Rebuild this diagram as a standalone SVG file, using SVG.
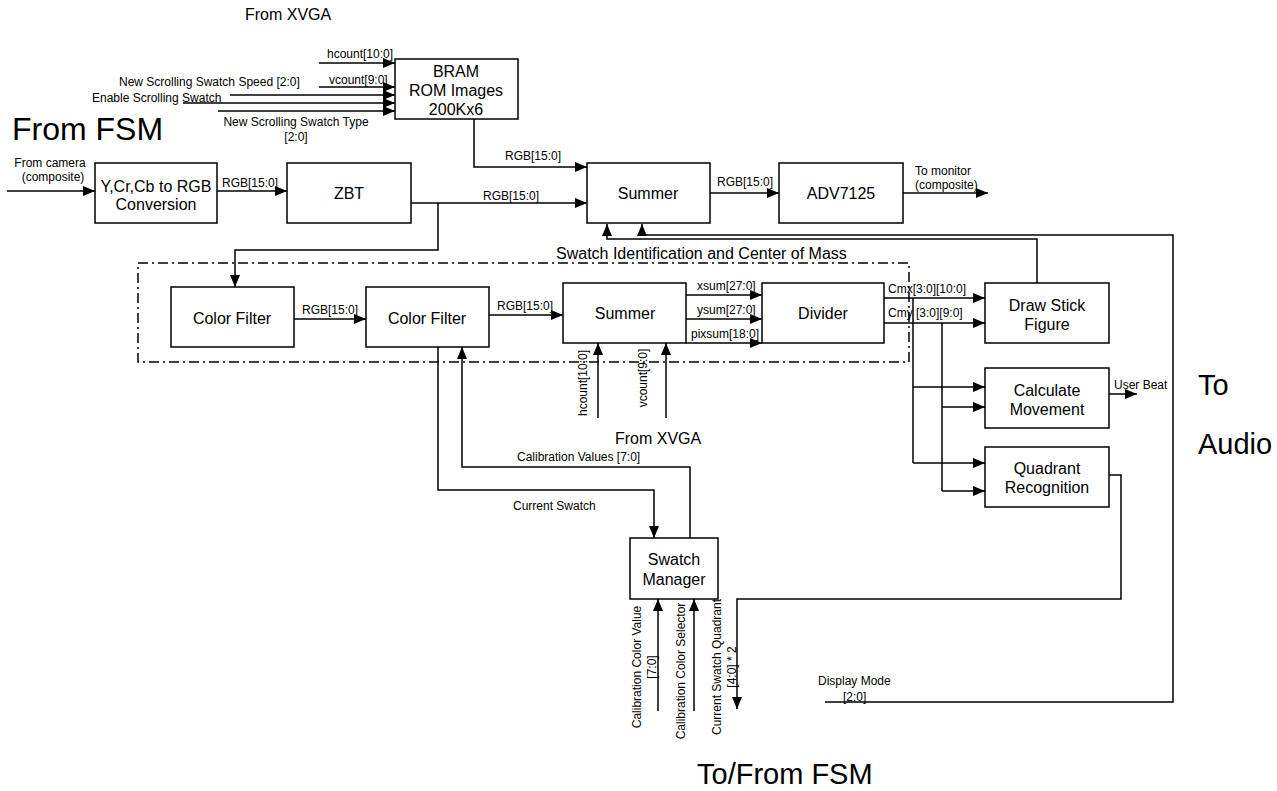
<svg xmlns="http://www.w3.org/2000/svg" width="1277" height="791" viewBox="0 0 1277 791">
<defs>
<marker id="ah" markerUnits="userSpaceOnUse" markerWidth="12" markerHeight="10" refX="12" refY="5" orient="auto"><path d="M0,0 L12,5 L0,10 z" fill="#000"/></marker>
<style>
.box{fill:#fff;stroke:#000;stroke-width:1.5}
.w{fill:none;stroke:#000;stroke-width:1.5}
.a{marker-end:url(#ah)}
.dash{fill:none;stroke:#000;stroke-width:1.5;stroke-dasharray:10,4,2,4}
text{font-family:"Liberation Sans",Arial,sans-serif;fill:#000}
.bt{font-size:16px;text-anchor:middle}
.s{font-size:12px}
.sc{font-size:12px;text-anchor:middle}
.m{font-size:16px}
.big{font-size:32px}
.big2{font-size:29px}
</style>
</defs>
<rect width="1277" height="791" fill="#fff"/>

<g id="group-swatch-id">
<rect class="dash" x="138" y="263" width="771" height="99"/>
<text class="m" x="556" y="259">Swatch Identification and Center of Mass</text>
</g>

<g id="connectors">
<path class="w a" d="M319,63 H395"/>
<path class="w a" d="M319,87 H395"/>
<path class="w a" d="M230,95 H395"/>
<path class="w a" d="M183,103 H395"/>
<path class="w a" d="M218,111 H395"/>
<path class="w a" d="M7,191 H95"/>
<path class="w a" d="M217,191 H287"/>
<path class="w a" d="M474,119 V167 H587"/>
<path class="w a" d="M411,203 H587"/>
<path class="w a" d="M438,203 V250 H235 V287"/>
<path class="w a" d="M710,193 H779"/>
<path class="w a" d="M903,193 H988"/>
<path class="w a" d="M294,319 H366"/>
<path class="w a" d="M489,315 H563"/>
<path class="w a" d="M686,295 H762"/>
<path class="w a" d="M686,319 H762"/>
<path class="w a" d="M686,343 H762"/>
<path class="w a" d="M884,298 H985"/>
<path class="w a" d="M884,323 H985"/>
<path class="w" d="M913,298 V463"/>
<path class="w a" d="M913,387 H985"/>
<path class="w a" d="M913,463 H985"/>
<path class="w" d="M942,323 V491"/>
<path class="w a" d="M942,407 H985"/>
<path class="w a" d="M942,491 H985"/>
<path class="w a" d="M1109,394 H1137"/>
<path class="w a" d="M598,418 V343"/>
<path class="w a" d="M666,418 V343"/>
<path class="w a" d="M438,347 V490 H654 V538"/>
<path class="w a" d="M690,538 V467 H462 V347"/>
<path class="w a" d="M658,711 V599"/>
<path class="w a" d="M694,711 V599"/>
<path class="w a" d="M1109,475 H1121 V599 H737 V709"/>
<path class="w a" d="M825,702 H1173 V235 H642 V224"/>
<path class="w a" d="M1037,283 V239 H607 V224"/>
</g>

<g id="labels">
<text class="m" x="245" y="20">From XVGA</text>
<text class="s" x="327" y="58">hcount[10:0]</text>
<text class="s" x="329" y="84">vcount[9:0]</text>
<text class="s" x="119" y="86">New Scrolling Swatch Speed [2:0]</text>
<text class="s" x="92" y="102">Enable Scrolling Swatch</text>
<text class="sc" x="296" y="126">New Scrolling Swatch Type</text>
<text class="sc" x="296" y="141">[2:0]</text>
<text class="big" x="12" y="140">From FSM</text>
<text class="sc" x="50" y="167">From camera</text>
<text class="sc" x="53" y="181">(composite)</text>
<text class="s" x="222" y="187">RGB[15:0]</text>
<text class="s" x="505" y="160">RGB[15:0]</text>
<text class="s" x="483" y="200">RGB[15:0]</text>
<text class="s" x="717" y="186">RGB[15:0]</text>
<text class="s" x="915" y="175">To monitor</text>
<text class="s" x="915" y="189">(composite)</text>
<text class="s" x="302" y="314">RGB[15:0]</text>
<text class="s" x="497" y="310">RGB[15:0]</text>
<text class="s" x="697" y="290">xsum[27:0]</text>
<text class="s" x="697" y="314">ysum[27:0]</text>
<text class="s" x="691" y="338">pixsum[18:0]</text>
<text class="s" x="888" y="293">Cmx[3:0][10:0]</text>
<text class="s" x="888" y="317">Cmy [3:0][9:0]</text>
<text class="s" x="1114" y="389">User Beat</text>
<text class="sc" transform="translate(587,383) rotate(-90)">hcount[10:0]</text>
<text class="sc" transform="translate(647,378) rotate(-90)">vcount[9:0]</text>
<text class="m" x="615" y="444">From XVGA</text>
<text class="s" x="517" y="461">Calibration Values [7:0]</text>
<text class="s" x="513" y="510">Current Swatch</text>
<text class="sc" transform="translate(641,667) rotate(-90)">Calibration Color Value</text>
<text class="sc" transform="translate(656,667) rotate(-90)">[7:0]</text>
<text class="sc" transform="translate(685,671) rotate(-90)">Calibration Color Selector</text>
<text class="sc" transform="translate(721,667) rotate(-90)">Current Swatch Quadrant</text>
<text class="sc" transform="translate(736,667) rotate(-90)">[4:0] * 2</text>
<text class="s" x="818" y="685">Display Mode</text>
<text class="s" x="843" y="701">[2:0]</text>
<text class="big2" x="1198" y="395">To</text>
<text class="big2" x="1198" y="454">Audio</text>
<text class="big2" x="697" y="784">To/From FSM</text>
</g>

<g id="node-bram"><rect class="box" x="395" y="59" width="123" height="60"/><text class="bt" x="456" y="77">BRAM</text><text class="bt" x="456" y="96">ROM Images</text><text class="bt" x="456" y="115">200Kx6</text></g>
<g id="node-ycrcb"><rect class="box" x="95" y="163" width="122" height="60"/><text class="bt" x="156" y="192">Y,Cr,Cb to RGB</text><text class="bt" x="156" y="210">Conversion</text></g>
<g id="node-zbt"><rect class="box" x="287" y="163" width="124" height="60"/><text class="bt" x="349" y="199">ZBT</text></g>
<g id="node-summer1"><rect class="box" x="587" y="163" width="123" height="60"/><text class="bt" x="648" y="199">Summer</text></g>
<g id="node-adv"><rect class="box" x="779" y="163" width="124" height="60"/><text class="bt" x="841" y="199">ADV7125</text></g>
<g id="node-cf1"><rect class="box" x="171" y="287" width="123" height="60"/><text class="bt" x="232" y="324">Color Filter</text></g>
<g id="node-cf2"><rect class="box" x="366" y="287" width="123" height="60"/><text class="bt" x="427" y="324">Color Filter</text></g>
<g id="node-summer2"><rect class="box" x="563" y="283" width="123" height="60"/><text class="bt" x="625" y="319">Summer</text></g>
<g id="node-divider"><rect class="box" x="762" y="283" width="122" height="60"/><text class="bt" x="823" y="319">Divider</text></g>
<g id="node-stick"><rect class="box" x="985" y="283" width="124" height="60"/><text class="bt" x="1047" y="311">Draw Stick</text><text class="bt" x="1047" y="330">Figure</text></g>
<g id="node-calc"><rect class="box" x="985" y="368" width="124" height="60"/><text class="bt" x="1047" y="396">Calculate</text><text class="bt" x="1047" y="415">Movement</text></g>
<g id="node-quad"><rect class="box" x="985" y="447" width="124" height="60"/><text class="bt" x="1047" y="474">Quadrant</text><text class="bt" x="1047" y="493">Recognition</text></g>
<g id="node-manager"><rect class="box" x="630" y="538" width="88" height="61"/><text class="bt" x="674" y="565">Swatch</text><text class="bt" x="674" y="585">Manager</text></g>
</svg>
